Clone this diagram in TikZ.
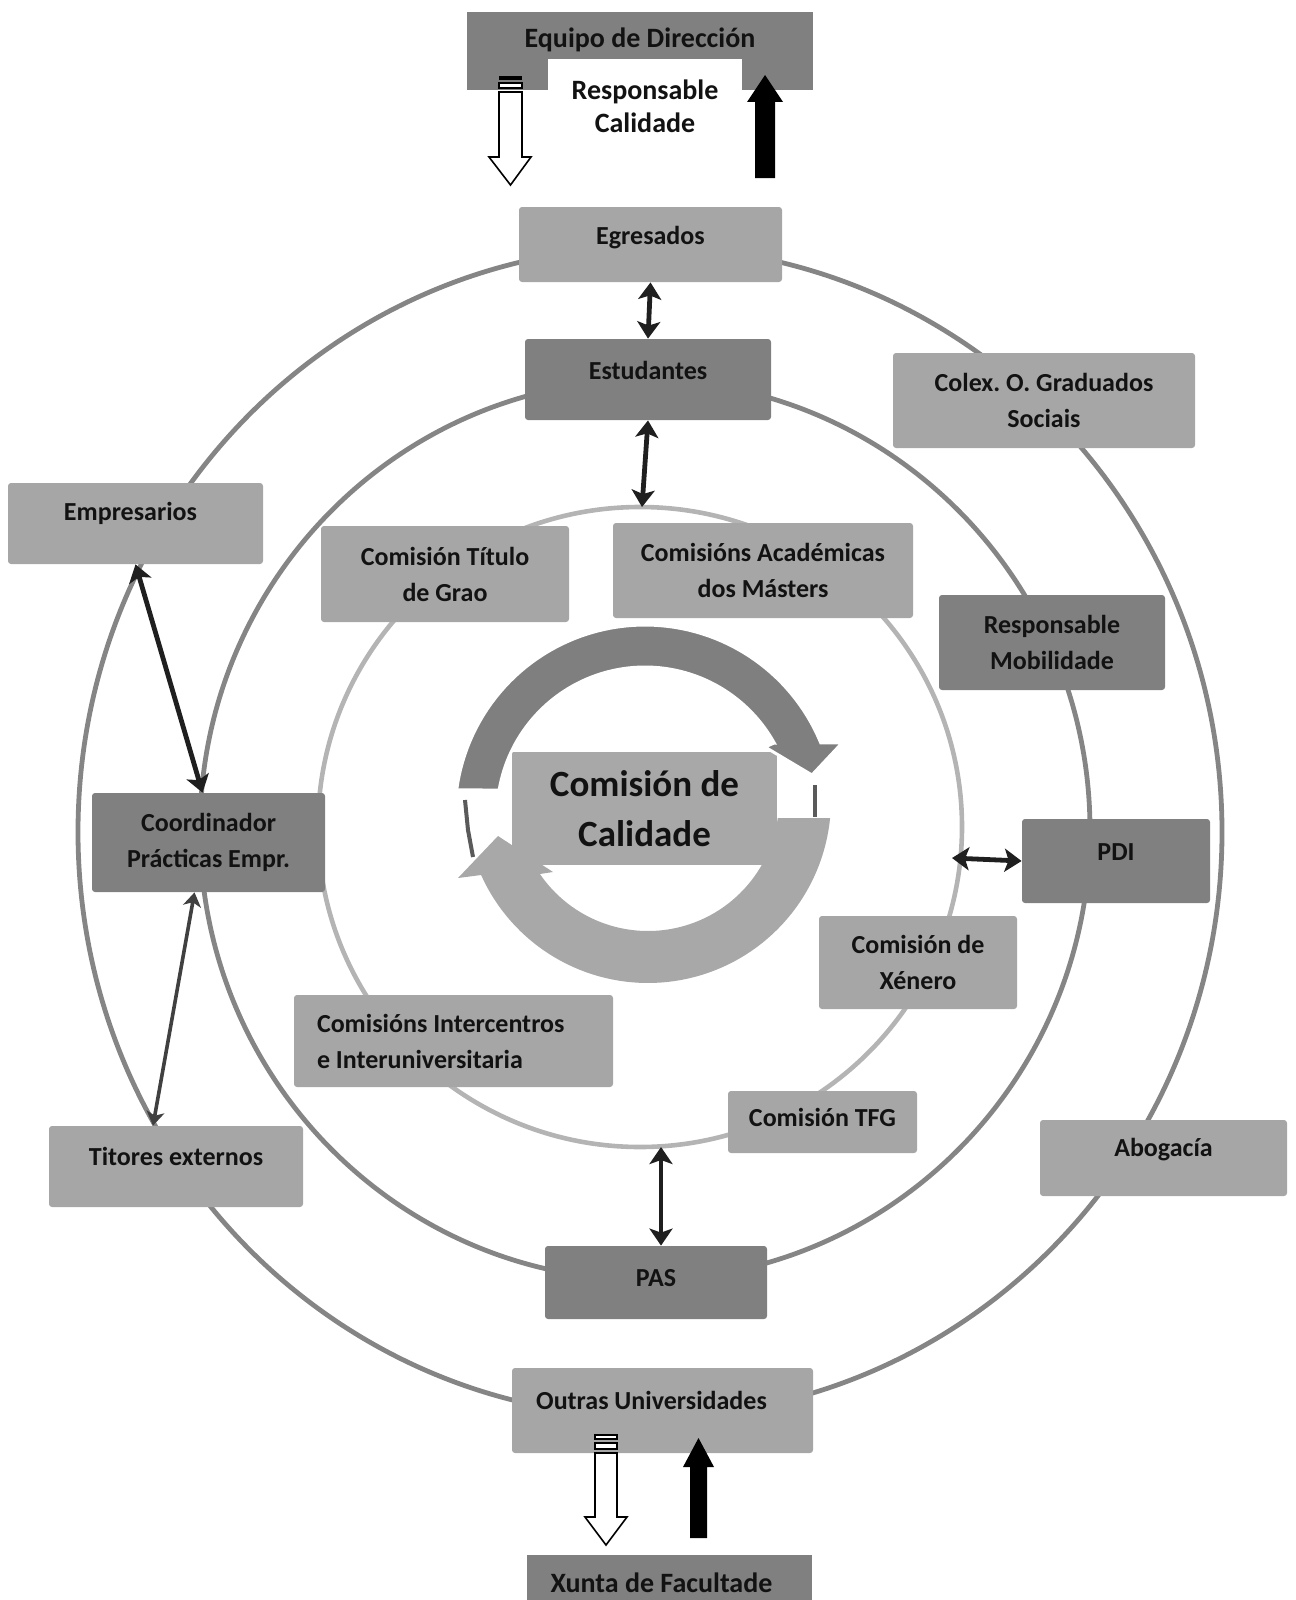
\documentclass[tikz,border=0pt]{standalone}
\usepackage{fontspec}
\setmainfont{Carlito}
\usetikzlibrary{arrows.meta}
\definecolor{lbox}{HTML}{A6A6A6}
\definecolor{dbox}{HTML}{808080}
\definecolor{ring}{HTML}{858585}
\definecolor{ringin}{HTML}{B4B4B4}
\definecolor{txt}{HTML}{121212}
\definecolor{topband}{HTML}{7F7F7F}
\definecolor{botband}{HTML}{A8A8A8}
\definecolor{thinline}{HTML}{5A5A5A}
\newcommand\lift[2]{\raisebox{#1}[\height][\depth]{#2}}
\frenchspacing
\begin{document}
\begin{tikzpicture}[x=0.5pt,y=-0.5pt,
  boxbase/.style={rectangle, rounded corners=1.5pt, inner sep=0pt, text=txt,
    font=\fontsize{13}{18}\selectfont\bfseries\frenchspacing, align=center},
  lightbox/.style={boxbase, fill=lbox},
  darkbox/.style={boxbase, fill=dbox},
  ringline/.style={draw=ring, line width=2.4pt},
  dbl/.style={{Stealth[length=8.5pt,width=11.5pt,inset=2pt]}-{Stealth[length=8.5pt,width=11.5pt,inset=2pt]},
    line width=2.4pt, draw=black!88},
  dblthin/.style={{Stealth[length=7pt,width=9pt,inset=2pt]}-{Stealth[length=7pt,width=9pt,inset=2pt]},
    line width=1.8pt, draw=black!75},
  blockout/.style={draw=black, line width=0.8pt, fill=white}
]
\useasboundingbox (0,0) rectangle (1295,1600);

% rings
\draw[ringline] (650,832) ellipse [x radius=286pt, y radius=292.5pt];
\draw[ringline] (645,830) ellipse [x radius=222.5pt, y radius=225pt];
\draw[draw=ringin, line width=2.3pt] (640,827) ellipse [x radius=161pt, y radius=160pt];

% top block
\node[darkbox, rounded corners=0pt, minimum width=173pt, minimum height=39pt,
  font=\fontsize{14}{17}\selectfont\bfseries] (dir) at (640,51) {\lift{5.5pt}{Equipo de Dirección}};
\node[boxbase, fill=white, rounded corners=0pt, minimum width=97pt, minimum height=47.5pt,
  font=\fontsize{14}{16.5}\selectfont\bfseries] (resp) at (645,106.5) {Responsable\\Calidade};

% boxes
\node[lightbox, minimum width=131.5pt, minimum height=37.5pt] (egr) at (650.5,244.5) {\lift{3.25pt}{Egresados}};
\node[darkbox, minimum width=123pt, minimum height=40.5pt] (est) at (648,379.5) {\lift{4.75pt}{Estudantes}};
\node[lightbox, minimum width=151pt, minimum height=47.5pt] (colex) at (1044,400.5) {Colex. O. Graduados\\Sociais};
\node[lightbox, minimum width=127.5pt, minimum height=40.5pt] (emp) at (135.5,523.5) {\lift{5.25pt}{Empresarios\hspace{5pt}}};
\node[lightbox, minimum width=124pt, minimum height=48pt] (ctg) at (445,574) {Comisión Título\\de Grao};
\node[lightbox, minimum width=150pt, minimum height=47.5pt] (cam) at (763,570.5) {Comisións Académicas\\dos Másters};
\node[darkbox, minimum width=113pt, minimum height=47.5pt] (rmob) at (1052,642.5) {Responsable\\Mobilidade};
\node[darkbox, minimum width=116.5pt, minimum height=49.5pt] (coord) at (208.5,842.5) {Coordinador\\Prácticas Empr.};
\node[darkbox, minimum width=94pt, minimum height=42pt] (pdi) at (1116,861) {\lift{4.5pt}{PDI}};
\node[lightbox, minimum width=99pt, minimum height=46.5pt] (xen) at (918,962.5) {Comisión de\\Xénero};
\node[lightbox, minimum width=159.5pt, minimum height=46pt, align=flush left, text width=136.5pt] (inter) at (453.5,1041) {Comisións Intercentros\\e Interuniversitaria};
\node[lightbox, minimum width=94.5pt, minimum height=31pt] (tfg) at (822.5,1122) {\lift{2.5pt}{Comisión TFG}};
\node[lightbox, minimum width=127pt, minimum height=40.5pt] (tit) at (176,1166.5) {\lift{5.25pt}{Titores externos}};
\node[lightbox, minimum width=123.5pt, minimum height=38pt] (abog) at (1163.5,1158) {\lift{4pt}{Abogacía}};
\node[darkbox, minimum width=111pt, minimum height=36.5pt] (pas) at (656,1282.5) {\lift{2.25pt}{PAS}};
\node[lightbox, minimum width=150.5pt, minimum height=42.5pt] (outras) at (662.5,1410.5) {\lift{5.25pt}{Outras Universidades\hspace{11pt}}};
\node[darkbox, rounded corners=0pt, minimum width=142.5pt, minimum height=22.5pt,
  font=\fontsize{14}{17}\selectfont\bfseries] (xunta) at (669.5,1577.5) {\lift{-2.75pt}{Xunta de Facultade\hspace{8pt}}};

% central cycle
\path[fill=botband] (778,818) -- (830,818)
  -- plot[domain=5.6:155.8, samples=70] ({648+183*cos(\x)},{800+183*sin(\x)})
  -- (458,878) -- (498,836) -- (553,872) -- (540,874)
  -- plot[domain=145.1:7.9, samples=70] ({648+131*cos(\x)},{800+131*sin(\x)}) -- cycle;
\node[boxbase, fill=botband, rounded corners=0pt, minimum width=132.5pt, minimum height=56.5pt,
  font=\fontsize{18.5}{25}\selectfont\bfseries] (cal) at (644.5,808.5) {Comisión de\\Calidade};
\path[fill=topband, draw=white, line width=1.5pt]
  plot[domain=187.6:337.7, samples=70] ({645+190*cos(\x)},{815+190*sin(\x)})
  -- (842,743) -- (812,775) -- (765,747) -- (774,743)
  -- plot[domain=330.9:189.7, samples=70] ({645+148*cos(\x)},{815+148*sin(\x)}) -- cycle;
\draw[draw=thinline, line width=2pt] (815,785) -- (815,817);
\draw[draw=thinline, line width=2pt] (465,800) -- (468,830) -- (473,857);

% connector points on the inner ring
\coordinate (intop) at (642,507);
\coordinate (inright) at (952,858);
\coordinate (inbot) at (661,1147);

% double arrows
\draw[dbl] (egr.south) -- (est.north);
\draw[dbl] (est.south) -- (intop);
\draw[dbl] (pdi.west) -- (inright);
\draw[dbl] ([xshift=2.5pt]pas.north) -- (inbot);
\draw[dbl] (emp.south) -- ([xshift=-3pt]coord.north);
\draw[dblthin] ([xshift=-7pt]coord.south) -- ([xshift=-11.5pt]tit.north);

% block arrows top
\fill[black] (499,76) rectangle (522,80);
\draw[blockout] (499,83) rectangle (522,88);
\draw[blockout] (499,92) -- (522,92) -- (522,157) -- (531,157) -- (510.5,185) -- (489,157) -- (499,157) -- cycle;
\fill[black] (755,178) -- (775,178) -- (775,102) -- (783,102) -- (765,75) -- (747,102) -- (755,102) -- cycle;

% block arrows bottom
\draw[blockout] (595,1435) rectangle (617,1439);
\draw[blockout] (595,1443) rectangle (617,1449);
\draw[blockout] (595,1453) -- (617,1453) -- (617,1517) -- (627,1517) -- (606,1545) -- (585,1517) -- (595,1517) -- cycle;
\fill[black] (690,1538) -- (707,1538) -- (707,1467) -- (714,1467) -- (698.5,1438) -- (683,1467) -- (690,1467) -- cycle;
\end{tikzpicture}
\end{document}
